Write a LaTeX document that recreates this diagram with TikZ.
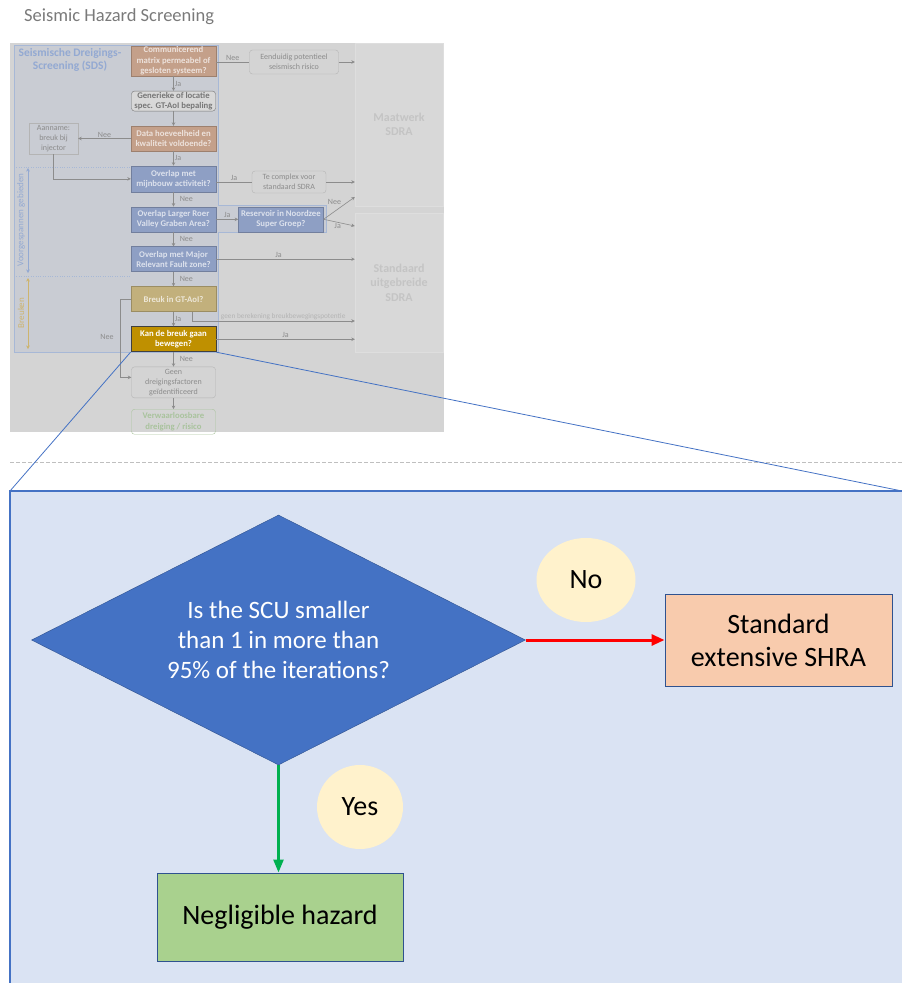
\documentclass[tikz,border=0pt]{standalone}
\usepackage{fontspec}
\setmainfont{Carlito}
\usetikzlibrary{arrows.meta, positioning, shapes.geometric}

\definecolor{titlegray}{HTML}{7A7A7A}
\definecolor{panelbg}{HTML}{D4D4D4}
\definecolor{sdsbg}{HTML}{C9CCD3}
\definecolor{sdsline}{HTML}{A7B8D6}
\definecolor{sdstext}{HTML}{93A9D2}
\definecolor{breukgold}{HTML}{CDB46E}
\definecolor{sdsorange}{HTML}{C4A08A}
\definecolor{sdsblue}{HTML}{8E9FC4}
\definecolor{sdstan}{HTML}{C2B07C}
\definecolor{sdsgold}{HTML}{BF9000}
\definecolor{lblgray}{HTML}{8C8C8C}
\definecolor{gengray}{HTML}{767676}
\definecolor{notegray}{HTML}{B4B4B4}
\definecolor{verwgreen}{HTML}{A9C39D}
\definecolor{sdrabg}{HTML}{D8D8D8}
\definecolor{sdraline}{HTML}{DEDEDE}
\definecolor{sdratext}{HTML}{C4C4C4}
\definecolor{dashgray}{HTML}{BFBFBF}
\definecolor{zoomblue}{HTML}{4472C4}
\definecolor{panelblue}{HTML}{DAE3F3}
\definecolor{qline}{HTML}{2F528F}
\definecolor{shrafill}{HTML}{F8CBAD}
\definecolor{neglfill}{HTML}{A9D18E}
\definecolor{tagfill}{HTML}{FFF2CC}
\definecolor{yesgreen}{HTML}{00B050}

\begin{document}
\begin{tikzpicture}[x=1pt, y=-1pt, node distance=14.5pt,
    >={Stealth[length=3.5pt, width=3.5pt]},
    sdsbox/.style={font=\fontsize{8.7}{10.4}\selectfont\bfseries, align=center, inner sep=1pt, minimum width=85pt, minimum height=25pt},
    notebox/.style={font=\fontsize{8}{10}\selectfont, align=center, inner sep=1pt, text=lblgray},
    qbox/.style={sdsbox, draw=#1!80!black, fill=#1, text=#1!30!white},
    obox/.style={sdsbox, rounded corners=3pt, draw=#1, text=#1},
    lbl/.style={font=\fontsize{8}{9}\selectfont, text=lblgray, inner sep=1pt},
    flow/.style={->, draw=lblgray, line width=0.6pt},
    link/.style={draw=lblgray, line width=0.6pt},
    sdra/.style={draw=sdraline, fill=sdrabg, text=sdratext, font=\fontsize{12}{14.5}\selectfont\bfseries, align=center, minimum width=88pt},
    tag/.style={ellipse, fill=tagfill, font=\fontsize{28}{30}\selectfont},
    result/.style={draw=qline, line width=1pt, font=\fontsize{28}{33}\selectfont, align=center}]
    \useasboundingbox (0,0) rectangle (902,983);

    % Screening overview
    \node[anchor=west, inner sep=0pt, text=titlegray, font=\fontsize{18.5}{20}\selectfont] (title) at (24,17) {Seismic Hazard Screening};
    \fill[panelbg] (10,43) rectangle (444,432);
    \filldraw[fill=sdsbg, draw=sdsline, line width=0.8pt] (14,45) -- (218,45) -- (218,205) -- (326,205) -- (326,232) -- (218,232) -- (218,352) -- (14,352) -- cycle;
    \draw[sdsline, dotted] (14,167) -- (131,167) (14,276) -- (131,276);
    \node[text=sdstext, align=center, font=\fontsize{11.5}{13}\selectfont\bfseries] (sds) at (70,60) {Seismische Dreigings-\\Screening (SDS)};
    \draw[<->, sdstext, line width=0.5pt] (28,168) -- (28,273);
    \node[rotate=90, text=sdstext, font=\fontsize{9}{10}\selectfont] (vg) at (21,220) {Voorgespannen gebieden};
    \draw[<->, breukgold, line width=0.5pt] (28,278) -- (28,349);
    \node[rotate=90, text=breukgold, font=\fontsize{9}{10}\selectfont] (bk) at (21,313) {Breuken};

    % Nodes
    \node[qbox=sdsorange, minimum height=30pt] (comm) at (173.5,61) {Communicerend\\matrix permeabel of\\gesloten systeem?};
    \node[obox=gengray, fill=sdrabg, minimum width=84pt, minimum height=20pt, below=of comm] (gen) {Generieke of locatie\\spec. GT-AoI bepaling};
    \node[qbox=sdsorange, below=of gen] (data) {Data hoeveelheid en\\kwaliteit voldoende?};
    \node[qbox=sdsblue, minimum height=26pt, below=of data] (mijn) {Overlap met\\mijnbouw activiteit?};
    \node[qbox=sdsblue, below=of mijn] (rvg) {Overlap Larger Roer\\Valley Graben Area?};
    \node[qbox=sdsblue, below=of rvg] (mrf) {Overlap met Major\\Relevant Fault zone?};
    \node[qbox=sdstan, below=of mrf] (breuk) {Breuk in GT-AoI?};
    \node[qbox=sdsgold, draw=black!75, line width=0.9pt, text=white, below=of breuk] (kan) {Kan de breuk gaan\\bewegen?};
    \node[notebox, rounded corners=3pt, draw=notegray, minimum width=84pt, minimum height=31pt, below=of kan] (geen) {Geen\\dreigingsfactoren\\geïdentificeerd};
    \node[obox=verwgreen, minimum width=84pt, below=11pt of geen] (verw) {Verwaarloosbare\\dreiging / risico};
    \node[notebox, draw=notegray, minimum width=49pt, minimum height=31pt] (aan) at (53.5,138.5) {Aanname:\\breuk bij\\injector};
    \node[notebox, rounded corners=3pt, draw=notegray, minimum width=89pt, minimum height=24pt] (een) at (294,62) {Eenduidig potentieel\\seismisch risico};
    \node[notebox, rounded corners=3pt, draw=notegray, minimum width=74pt, minimum height=22pt] (tec) at (289,182) {Te complex voor\\standaard SDRA};
    \node[qbox=sdsblue, right=22pt of rvg] (res) {Reservoir in Noordzee\\Super Groep?};
    \node[sdra, minimum height=163pt] (maat) at (399,124.5) {Maatwerk\\SDRA};
    \node[sdra, minimum height=139pt] (stand) at (399,282.5) {Standaard\\uitgebreide\\SDRA};

    % Edges
    \draw[flow] (comm) -- node[lbl, right] {Ja} (gen);
    \draw[flow] (gen) -- (data);
    \draw[flow] (data) -- node[lbl, right] {Ja} (mijn);
    \draw[flow] (mijn) -- node[lbl, right=5pt] {Nee} (rvg);
    \draw[flow] (rvg) -- node[lbl, right=5pt] {Nee} (mrf);
    \draw[flow] (mrf) -- node[lbl, right=5pt] {Nee} (breuk);
    \draw[flow] (breuk) -- node[lbl, right] {Ja} (kan);
    \draw[flow] (kan) -- node[lbl, right=5pt] {Nee} (geen);
    \draw[flow] (geen) -- (verw);
    \draw[flow] (data) -- node[lbl, above] {Nee} (aan);
    \draw[flow] (aan.south) |- (mijn.west);
    \draw[link] (comm.east |- een.west) -- node[lbl, above] {Nee} (een.west);
    \draw[flow] (een) -- (maat.west |- een);
    \draw[link] (mijn.east |- tec.west) -- node[lbl, above] {Ja} (tec.west);
    \draw[flow] (tec) -- (maat.west |- tec);
    \draw[flow] (rvg) -- node[lbl, above] {Ja} (res);
    \draw[flow] (res.east) -- node[lbl, above left, pos=.6] {Nee} (maat.west |- 0,197);
    \draw[flow] (res.east) -- node[lbl, below, pos=.45] {Ja} (stand.west |- 0,226);
    \draw[flow] (mrf) -- node[lbl, above, pos=.45] {Ja} (stand.west |- mrf);
    \draw[flow] ([xshift=18.5pt]breuk.south) |- node[lbl, text=notegray, font=\fontsize{7.3}{8}\selectfont, pos=.78, above] {geen berekening breukbewegingspotentie} (stand.west |- 0,321);
    \draw[flow] (kan) -- node[lbl, above] {Ja} (stand.west |- kan);
    \draw[flow] (breuk.west) -- ++(-11,0) |- node[lbl, left=5pt, pos=.24] {Nee} ([yshift=5pt]geen.west);

    % Zoom onto the last question
    \draw[dashgray, dash pattern=on 4pt off 2pt] (10,462) -- (902,462);
    \fill[panelblue] (10,491) rectangle (902,983);
    \draw[zoomblue, line width=2pt] (10,983) -- (10,491) -- (902,491);
    \coordinate (pnw) at (10,491);
    \coordinate (pne) at (902,491);
    \draw[zoomblue, line width=0.8pt] (kan.south west) -- (pnw);
    \draw[zoomblue, line width=0.8pt] (kan.south east) -- (pne);

    \node[diamond, aspect=1.976, minimum width=494pt, minimum height=250pt, inner sep=0pt, fill=zoomblue, draw=qline, text=white, align=center, font=\fontsize{25}{30}\selectfont] (scu) at (278.5,640) {Is the SCU smaller\\than 1 in more than\\95\% of the iterations?};
    \node[result, fill=shrafill, minimum width=227pt, minimum height=92pt] (shra) at (778.5,640) {Standard\\extensive SHRA};
    \node[result, fill=neglfill, minimum width=246pt, minimum height=88pt] (negl) at (280,917) {Negligible hazard};
    \node[tag, minimum width=99pt, minimum height=84pt] (no) at (586,580) {No};
    \node[tag, minimum width=86pt, minimum height=84pt] (yes) at (360,807) {Yes};

    \draw[-{Triangle[length=13pt, width=11pt]}, line width=3pt, red] (scu) -- (shra);
    \draw[-{Triangle[length=13pt, width=10pt]}, line width=2.5pt, yesgreen] (scu) -- (scu |- negl.north);
\end{tikzpicture}
\end{document}
